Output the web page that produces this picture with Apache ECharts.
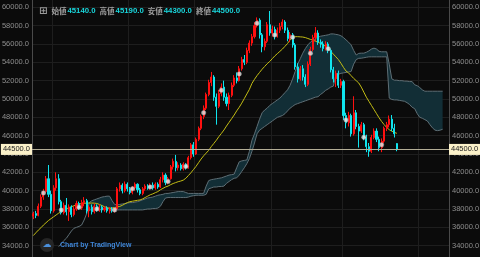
<!DOCTYPE html>
<html>
<head>
<meta charset="utf-8">
<script src="https://cdn.jsdelivr.net/npm/echarts@6/dist/echarts.min.js"></script>
<style>
html, body { margin: 0; padding: 0; background: #0b0b0b; }
#chart { width: 480px; height: 257px; }
</style>
</head>
<body>
<div id="chart"></div>
<script>
// daily candles, rows are [open, close, low, high]
var candles = [
  [37200,37500,36900,37700],[37500,37300,37000,37800],[37300,38300,37200,38600],[38300,39300,38100,39600],
  [39300,39900,39000,40200],[39900,41300,39700,41600],[41300,39600,39300,42800],[39600,37800,37500,40000],
  [37800,40300,37600,40600],[40300,41300,40000,42000],[41300,38800,38500,41800],[38800,37600,37400,39000],
  [37600,38400,37400,38700],[38400,37700,37300,39200],[37700,38200,36700,38500],[38200,37400,37100,38400],
  [37400,38000,37200,38300],[38000,38600,37800,38900],[38600,38100,37900,38800],[38100,38700,37900,39000],
  [38700,38900,38300,39300],[38900,37800,37500,39100],[37800,38200,37100,38400],[38200,37700,37400,38500],
  [37700,38300,37500,38600],[38300,37900,37700,38500],[37900,38200,37700,38500],[38200,37900,37600,38400],
  [37900,38100,37700,38300],[38100,37800,37600,38300],[37800,38000,37500,38200],[38000,37800,37600,38200],
  [37800,38000,37600,38200],[38000,40200,37900,40400],[40200,40600,39900,40900],[40600,40000,39700,40800],
  [40000,40700,39800,41000],[40700,40200,39900,40900],[40200,39800,39600,40400],[39800,40300,39600,40500],
  [40300,40700,40000,40900],[40700,40100,39800,40800],[40100,39700,39500,40300],[39700,40200,39500,40400],
  [40200,40500,40000,40700],[40500,40300,40100,40700],[40300,40600,40100,40800],[40600,40300,40100,40900],
  [40300,40700,40100,40900],[40700,40400,40200,40900],[40400,41200,40300,41500],[41200,41700,40900,42000],
  [41700,40900,40600,41900],[40900,41300,40700,41500],[41300,42600,41200,42800],[42600,43200,42300,43500],
  [43200,42500,42100,43900],[42500,42800,42200,43100],[42800,42400,42200,43000],[42400,42900,42200,43100],
  [42900,42500,42300,43000],[42500,43600,42400,43800],[43600,45000,43400,45200],[45000,44000,43700,45300],
  [44000,45600,43900,45800],[45600,46800,45400,47000],[46800,48100,46600,48300],[48100,49000,47800,49300],
  [49000,50500,48800,50700],[50500,51800,50300,52100],[51800,52400,51400,52950],[52400,50200,49800,52600],
  [50200,49200,47200,50600],[49200,50600,49000,51000],[50600,51300,50300,51700],[51300,50200,49800,52000],
  [50200,49500,49200,50600],[49500,50400,48800,50700],[50400,51500,50200,51800],[51500,52300,51300,52600],
  [52300,52000,51700,52900],[52000,53300,51900,53600],[53300,54300,53100,54600],[54300,54000,53700,54800],
  [54000,55300,53800,55600],[55300,56100,55000,56400],[56100,56800,55800,57100],[56800,58000,56600,58400],
  [58000,58600,57800,58900],[58600,57000,56600,58800],[57000,55700,55100,57200],[55700,56300,55300,56600],
  [56300,58100,56100,58400],[58100,57200,56900,59600],[57200,57600,56800,58000],[57600,56900,56500,57900],
  [56900,57500,56700,57800],[57500,57900,57200,58300],[57900,58400,57600,58700],[58400,57500,57200,58600],
  [57500,56600,56300,57800],[56600,57000,56200,57300],[57000,55900,55600,57200],[55900,53500,53200,56100],
  [53500,52200,51800,53900],[52200,53300,52000,53600],[53300,52400,52000,53700],[52400,51600,51300,52700],
  [51600,53800,51400,54100],[53800,55400,53600,55700],[55400,56700,55200,57000],[56700,57200,56300,57850],
  [57200,56200,55900,57500],[56200,56000,55600,56500],[56000,55500,55200,56300],[55500,56000,55300,56300],
  [56000,55300,55000,56200],[55300,53200,52900,55500],[53200,52200,51800,53500],[52200,52800,51300,53100],
  [52800,51500,51200,53100],[51500,51900,51200,52200],[51900,48200,47700,52100],[48200,47400,46800,48500],
  [47400,48200,47000,48600],[48200,46200,45900,48400],[46200,48500,46000,50300],[48500,47000,46700,48800],
  [47000,46500,44700,47300],[46500,47200,46300,47500],[47200,45800,45500,47400],[45800,44800,44200,46100],
  [44800,44300,43700,45200],[44300,45800,44100,46100],[45800,46500,45600,46800],[46500,45600,45300,46800],
  [45600,44700,44300,45900],[44700,45400,44200,45700],[45400,46800,45200,47000],[46800,47200,46500,47500],
  [47200,47800,46900,48200],[47800,46800,46500,48250],[46800,46200,45800,47300],[45140,44500,44300,45190]
];

// yellow moving average, one value per candle
var maLine = [
  35100,35400,35700,35950,36250,36500,36750,36950,37150,37350,37550,37700,37850,38000,38150,38250,
  38350,38450,38540,38580,38620,38650,38650,38650,38640,38600,38500,38380,38250,38150,38080,38100,
  38150,38220,38280,38400,38550,38700,38800,38850,38900,38950,38990,39100,39250,39400,39550,39650,
  39780,39900,40100,40250,40400,40500,40650,40780,40880,40980,41050,41150,41350,41650,41950,42300,
  42650,43050,43450,43800,44100,44400,44800,45150,45500,45900,46250,46620,47050,47450,47850,48250,
  48700,49100,49550,50050,50550,51050,51700,52150,52550,52900,53250,53550,53850,54100,54400,54700,
  54950,55200,55450,55750,56050,56450,56750,56800,56800,56780,56760,56700,56600,56500,56420,56300,
  56200,56050,55900,55750,55550,55200,54900,54600,54300,53900,53450,53050,52850,52550,52250,52000,
  51750,51300,50750,50200,49750,49300,48850,48400,47950,47550,47200,46900,46650,46500,46350,46260
];

// cloud edges (the cloud runs ahead of the last candle)
var cloudA = [
  null,null,null,null,null,null,null,null,null,null,
  33900,34200,34550,34800,35200,35600,35900,36000,36100,36250,36800,37500,38700,38900,39000,39100,
  39200,39300,39350,39400,39400,38900,38500,38450,38500,38550,38600,38650,38700,38700,38750,38800,
  38900,39000,39100,39200,39250,39300,39400,39500,39550,39600,39700,39700,39750,39800,39850,39900,
  39900,39900,39800,39700,39700,39700,39700,39700,39700,39700,40500,41100,41200,41250,41300,41350,
  41400,41500,41600,41700,41750,41800,42500,43150,43250,43300,43350,44300,45500,46200,47000,47800,
  48500,48800,49000,49300,49500,49700,49900,50100,50400,50700,51000,51500,52200,53000,53800,54400,
  55000,55500,55900,56200,56400,56600,56750,56850,56900,56950,57000,57100,57100,57050,57000,56900,
  56700,56450,56200,55900,55300,54800,54980,55000,55000,55100,55250,55450,55550,55450,55200,55150,
  55150,55150,53800,52200,52050,52050,52000,52000,51950,51950,51900,51900,51550,51450,51250,51000,
  50850,50850,50850,50850,50850,50850,50850,50850
];
var cloudB = [
  null,null,null,null,null,null,null,null,null,null,null,null,null,null,null,null,null,null,null,null,
  null,null,37900,37900,37900,37900,37900,37950,38000,38000,38050,38100,38150,37900,37900,37900,
  37900,37900,37900,37900,37900,37900,37900,37900,37950,38000,38000,38050,38050,38100,38300,38800,
  39200,39250,39250,39250,39250,39250,39250,39250,39250,39300,39400,39450,39500,39500,39500,39500,
  39600,40200,40300,40400,40400,40450,40450,40500,40800,41000,41200,41350,41400,41700,42100,42500,
  42950,43500,44300,45200,46200,46600,46800,47000,47200,47400,47600,47800,48000,48100,48200,48400,
  48700,49000,49200,49400,49500,49600,49700,49800,49900,50000,50100,50200,50250,50500,50700,50950,
  51100,51300,51400,52600,52700,52800,52850,52900,52950,53000,53800,54300,54440,54450,54500,54550,
  54600,54600,54600,54600,54600,54600,54600,54600,50100,49950,49900,49900,49850,49800,49750,49600,
  49400,49100,48950,48400,48000,47900,47750,47600,47200,46850,46600,46550,46600,46700
];

// weekly markers [candle index, price]
var weekDots = [
  [4,39750],[11,37900],[18,38200],[25,38000],[32,37900],[39,40200],[46,40400],[53,41000],
  [60,42650],[67,48500],[74,50950],[81,52730],[88,58260],[95,56980],[102,56730],[109,54980],
  [116,55490],[123,47710],[130,45820],[137,45000]
];

// candle indexes where a new month starts (vertical grid lines)
var monthStarts = [8, 38, 64, 94, 122, 152];

var barCount = 164;
var headerNames = ['始値', '高値', '安値', '終値'];

var days = [];
for (var i = 0; i < barCount; i++) days.push(String(i));

var last = candles[candles.length - 1];
var lastOHLC = [last[0], last[3], last[2], last[1]];

var header = '{ic|⊞}{sp| }';
for (var k = 0; k < headerNames.length; k++) {
  header += '{k|' + headerNames[k] + '}{v|' + lastOHLC[k].toFixed(1) + '}' + (k < 3 ? '{sp| }' : '');
}

var chart = echarts.init(document.getElementById('chart'));

var priceLabel = {
  show: true,
  formatter: function (p) { return p.value.toFixed(1); },
  backgroundColor: '#fbf1c9',
  color: '#1a1a1a',
  fontSize: 7.5,
  fontFamily: 'Liberation Sans',
  padding: [2, 2, 1, 2],
  distance: 0
};

var axisLabelStyle = {
  color: '#8e8e8e',
  fontSize: 7.5,
  fontFamily: 'Liberation Sans',
  margin: 3,
  formatter: function (v) { return v.toFixed(1); }
};

var option = {
  backgroundColor: '#0b0b0b',
  animation: false,
  title: {
    left: 34,
    top: 1,
    text: header,
    textStyle: {
      rich: {
        ic: { color: '#9a9a9a', fontSize: 10, fontFamily: 'DejaVu Sans' },
        k: { color: '#a0a0a0', fontSize: 7.5, fontFamily: 'Noto Sans CJK JP', padding: [0, 1, 0, 0] },
        v: { color: '#1ad6dc', fontSize: 7.8, fontFamily: 'Liberation Sans' },
        sp: { fontSize: 7.5, width: 4 }
      }
    }
  },
  grid: {
    left: 32,
    right: 31,
    top: -11,
    bottom: -7,
    outerBoundsMode: 'none'
  },
  xAxis: {
    type: 'category',
    data: days,
    boundaryGap: true,
    axisLine: { show: false },
    axisTick: { show: false },
    axisLabel: { show: false },
    splitLine: {
      show: true,
      interval: function (idx) { return monthStarts.indexOf(idx) >= 0; },
      lineStyle: { color: '#1e1e1e', width: 1 }
    }
  },
  yAxis: [
    {
      type: 'value',
      position: 'left',
      min: 32000,
      max: 62000,
      interval: 2000,
      axisLine: { show: true, lineStyle: { color: '#4a4a4a' } },
      axisTick: { show: false },
      splitLine: { lineStyle: { color: '#1e1e1e', width: 1 } },
      axisLabel: axisLabelStyle
    },
    {
      type: 'value',
      position: 'right',
      min: 32000,
      max: 62000,
      interval: 2000,
      axisLine: { show: true, lineStyle: { color: '#4a4a4a' } },
      axisTick: { show: false },
      splitLine: { show: false },
      axisLabel: axisLabelStyle
    }
  ],
  series: [
    {
      type: 'custom',
      data: [0],
      z: 1,
      silent: true,
      renderItem: function (params, api) {
        var top = [], bottom = [];
        for (var i = 0; i < cloudA.length; i++) {
          if (cloudA[i] == null || cloudB[i] == null) continue;
          top.push(api.coord([i, cloudA[i]]));
          bottom.unshift(api.coord([i, cloudB[i]]));
        }
        return {
          type: 'polygon',
          shape: { points: top.concat(bottom) },
          style: { fill: '#122e36' }
        };
      }
    },
    {
      type: 'line',
      data: cloudA,
      z: 2,
      showSymbol: false,
      silent: true,
      lineStyle: { color: '#5e6e75', width: 1 }
    },
    {
      type: 'line',
      data: cloudB,
      z: 2,
      showSymbol: false,
      silent: true,
      lineStyle: { color: '#5e6e75', width: 1 }
    },
    {
      type: 'line',
      data: maLine,
      z: 3,
      showSymbol: false,
      silent: true,
      lineStyle: { color: '#c3bd14', width: 1 }
    },
    {
      type: 'candlestick',
      data: candles,
      z: 4,
      barWidth: '62%',
      itemStyle: {
        color: '#ff1010',
        color0: '#10e4ee',
        borderColor: '#ff1010',
        borderColor0: '#10e4ee',
        borderWidth: 1
      },
      markLine: {
        silent: true,
        symbol: 'none',
        animation: false,
        lineStyle: { color: '#b3ad96', width: 1, type: 'solid' },
        data: [
          { yAxis: last[1], label: Object.assign({ position: 'start' }, priceLabel) },
          { yAxis: last[1], label: Object.assign({ position: 'end' }, priceLabel) }
        ]
      }
    },
    {
      type: 'scatter',
      data: weekDots,
      z: 5,
      symbolSize: 4.5,
      silent: true,
      itemStyle: { color: '#e8e8e8', borderColor: '#a0a0a0', borderWidth: 0.5 }
    }
  ],
  graphic: [
    {
      type: 'circle',
      shape: { cx: 47, cy: 245, r: 7 },
      style: { fill: '#262626' },
      z: 100
    },
    {
      type: 'text',
      x: 47,
      y: 245,
      style: { text: '☁', fill: '#4b90dc', font: '9px DejaVu Sans', align: 'center', verticalAlign: 'middle' },
      z: 101
    },
    {
      type: 'text',
      x: 60,
      y: 245,
      style: { text: 'Chart by TradingView', fill: '#3f86d8', font: 'bold 7px Liberation Sans', verticalAlign: 'middle' },
      z: 101
    }
  ]
};

chart.setOption(option);
</script>
</body>
</html>
